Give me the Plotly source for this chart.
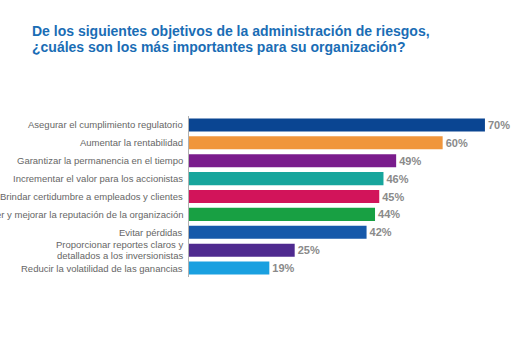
import plotly.graph_objects as go

title_lines = [
    "De los siguientes objetivos de la administración de riesgos,",
    "¿cuáles son los más importantes para su organización?",
]
categories = [
    "Asegurar el cumplimiento regulatorio",
    "Aumentar la rentabilidad",
    "Garantizar la permanencia en el tiempo",
    "Incrementar el valor para los accionistas",
    "Brindar certidumbre a empleados y clientes",
    "Proteger y mejorar la reputación de la organización",
    "Evitar pérdidas",
    "Proporcionar reportes claros y<br>detallados a los inversionistas",
    "Reducir la volatilidad de las ganancias",
]
values = [70, 60, 49, 46, 45, 44, 42, 25, 19]
value_labels = ["70%", "60%", "49%", "46%", "45%", "44%", "42%", "25%", "19%"]
colors = ["#0a4592", "#f0963c", "#7a1c8c", "#17a59c", "#d2145a",
          "#18a043", "#1659aa", "#4f2a8f", "#1aa0e0"]

FONT = "Liberation Sans, Arial, sans-serif"

fig = go.Figure(go.Bar(
    x=values, y=categories, orientation="h",
    marker=dict(color=colors, line=dict(width=0)),
    text=value_labels, textposition="outside", cliponaxis=False,
    textfont=dict(family=FONT, size=11, color="#8a8a8a", weight="bold"),
))

annotations = []
# category labels (multi-line labels with tight line spacing)
for cat in categories:
    lines = cat.split("<br>")
    n = len(lines)
    for i, line in enumerate(lines):
        shift = ((n - 1) / 2 - i) * 11
        annotations.append(dict(
            x=0, xref="paper", y=cat, yref="y", text=line, showarrow=False,
            xanchor="right", yanchor="middle", xshift=-4, yshift=shift,
            font=dict(family=FONT, size=9.5, color="#666666"),
        ))
# title lines (positioned in pixels; plot area spans x 189..512, y 116..277)
plot_left, plot_right = 189, 512
plot_top, plot_bottom = 116, 277
for i, line in enumerate(title_lines):
    py = 31 + i * 16.5
    annotations.append(dict(
        x=(30 - plot_left) / (plot_right - plot_left), xref="paper",
        y=(plot_bottom - py) / (plot_bottom - plot_top), yref="paper",
        text="<b>" + line + "</b>", showarrow=False, xanchor="left", yanchor="middle",
        font=dict(family=FONT, size=14, color="#1a6db5"),
    ))

fig.update_layout(
    width=512, height=341,
    margin=dict(l=189, r=0, t=116, b=64),
    paper_bgcolor="white", plot_bgcolor="white",
    showlegend=False, bargap=0.27,
    annotations=annotations,
    xaxis=dict(range=[0, 76.4], visible=False, showgrid=False, zeroline=False),
    yaxis=dict(
        autorange="reversed", automargin=False,
        showline=True, linecolor="#b0b0b0", linewidth=1,
        ticks="", showticklabels=False, showgrid=False,
    ),
)

fig.write_html("out.html")
